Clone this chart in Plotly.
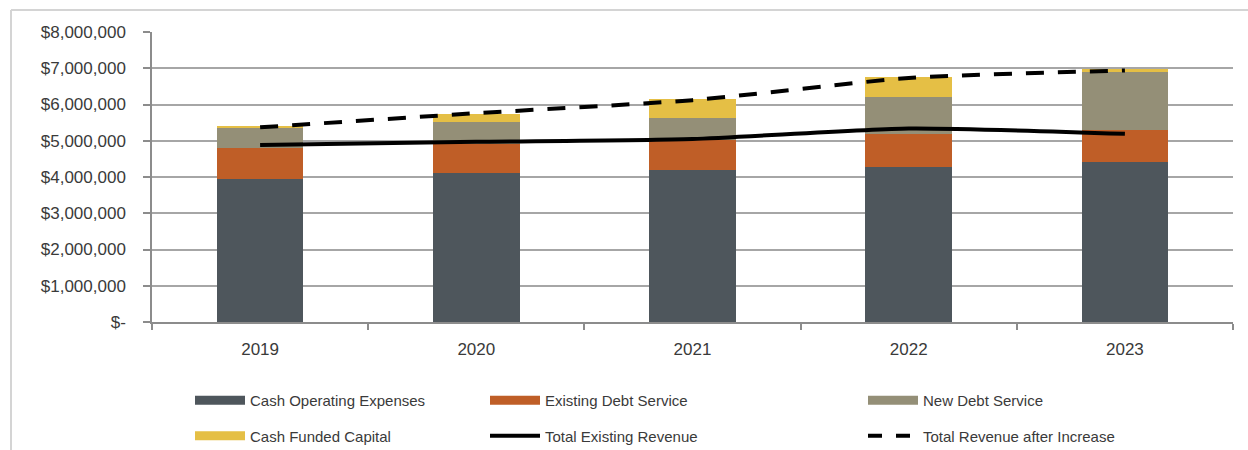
import plotly.graph_objects as go

years = ["2019", "2020", "2021", "2022", "2023"]
cash_operating = [3940000, 4120000, 4190000, 4280000, 4420000]
existing_debt = [870000, 780000, 830000, 920000, 880000]
new_debt = [550000, 630000, 620000, 1020000, 1600000]
cash_funded_capital = [20000, 210000, 500000, 530000, 80000]
total_existing_revenue = [4880000, 4970000, 5050000, 5340000, 5190000]
total_revenue_after = [5370000, 5760000, 6120000, 6730000, 6940000]

y_tickvals = [0, 1000000, 2000000, 3000000, 4000000, 5000000, 6000000, 7000000, 8000000]
y_ticktext = ["$-", "$1,000,000", "$2,000,000", "$3,000,000", "$4,000,000",
              "$5,000,000", "$6,000,000", "$7,000,000", "$8,000,000"]

C_OP = "#4E565C"
C_EX = "#BF5E27"
C_NEW = "#948F77"
C_CAP = "#E5BF45"

FONT = "Arial, Liberation Sans, sans-serif"
TXT = "#3A3A3A"

fig = go.Figure()

bar_series = [
    ("Cash Operating Expenses", cash_operating, C_OP),
    ("Existing Debt Service", existing_debt, C_EX),
    ("New Debt Service", new_debt, C_NEW),
    ("Cash Funded Capital", cash_funded_capital, C_CAP),
]
for name, vals, col in bar_series:
    fig.add_trace(go.Bar(x=years, y=vals, name=name, marker_color=col,
                         marker_line_width=0, width=0.4, showlegend=False))

fig.add_trace(go.Scatter(x=years, y=total_existing_revenue, mode="lines",
                         name="Total Existing Revenue", showlegend=False,
                         line=dict(color="black", width=4, shape="spline", smoothing=0.6)))
fig.add_trace(go.Scatter(x=years, y=total_revenue_after, mode="lines",
                         name="Total Revenue after Increase", showlegend=False,
                         line=dict(color="black", width=4, dash="18px,14px",
                                   shape="spline", smoothing=0.6)))

# legend entries (wide swatches like the original)
legend_items = [
    ("Cash Operating Expenses", C_OP, 9, "solid", "legend"),
    ("Cash Funded Capital", C_CAP, 9, "solid", "legend"),
    ("Existing Debt Service", C_EX, 9, "solid", "legend2"),
    ("Total Existing Revenue", "black", 4, "solid", "legend2"),
    ("New Debt Service", C_NEW, 9, "solid", "legend3"),
    ("Total Revenue after Increase", "black", 4, "14px,14px", "legend3"),
]
for i, (name, col, w, dash, lg) in enumerate(legend_items):
    fig.add_trace(go.Scatter(x=[None], y=[None], mode="lines", name=name,
                             line=dict(color=col, width=w, dash=dash),
                             legend=lg, legendgroup="g%d" % i, showlegend=True))

def px_to_paper_x(px):
    return (px - 152) / 1081.0

def px_to_paper_y(py):
    return (322 - py) / 290.0

leg_common = dict(orientation="v", xanchor="left", yanchor="top",
                  font=dict(family=FONT, size=15, color=TXT),
                  bgcolor="rgba(0,0,0,0)", itemwidth=50, tracegroupgap=13,
                  itemclick=False, itemdoubleclick=False)

fig.update_layout(
    width=1248, height=450,
    margin=dict(l=152, r=15, t=32, b=128, autoexpand=False),
    paper_bgcolor="white", plot_bgcolor="white",
    barmode="stack",
    font=dict(family=FONT, size=17, color=TXT),
    legend=dict(x=px_to_paper_x(190), y=px_to_paper_y(384), **leg_common),
    legend2=dict(x=px_to_paper_x(485), y=px_to_paper_y(384), **leg_common),
    legend3=dict(x=px_to_paper_x(863), y=px_to_paper_y(384), **leg_common),
    xaxis=dict(type="category", showgrid=False, showline=True, linecolor="#8C8C8C",
               linewidth=1.5, ticks="outside", tickson="boundaries", ticklen=6,
               tickcolor="#8C8C8C", tickwidth=1.5,
               tickfont=dict(family=FONT, size=17, color=TXT), ticklabelstandoff=11),
    yaxis=dict(range=[0, 8000000], tickvals=y_tickvals, ticktext=y_ticktext,
               showgrid=True, gridcolor="#A6A6A6", gridwidth=1.5,
               showline=True, linecolor="#8C8C8C", linewidth=1.5,
               ticks="outside", ticklen=7, tickcolor="#8C8C8C", tickwidth=1.5,
               tickfont=dict(family=FONT, size=17, color=TXT), ticklabelstandoff=14,
               zeroline=False),
    shapes=[
        dict(type="line", xref="paper", yref="paper",
             x0=px_to_paper_x(11), x1=px_to_paper_x(1260), y0=px_to_paper_y(10), y1=px_to_paper_y(10),
             line=dict(color="#D4D4D4", width=2)),
        dict(type="line", xref="paper", yref="paper",
             x0=px_to_paper_x(11), x1=px_to_paper_x(11), y0=px_to_paper_y(10), y1=px_to_paper_y(460),
             line=dict(color="#D4D4D4", width=2)),
    ],
)

fig.write_html("out.html")
